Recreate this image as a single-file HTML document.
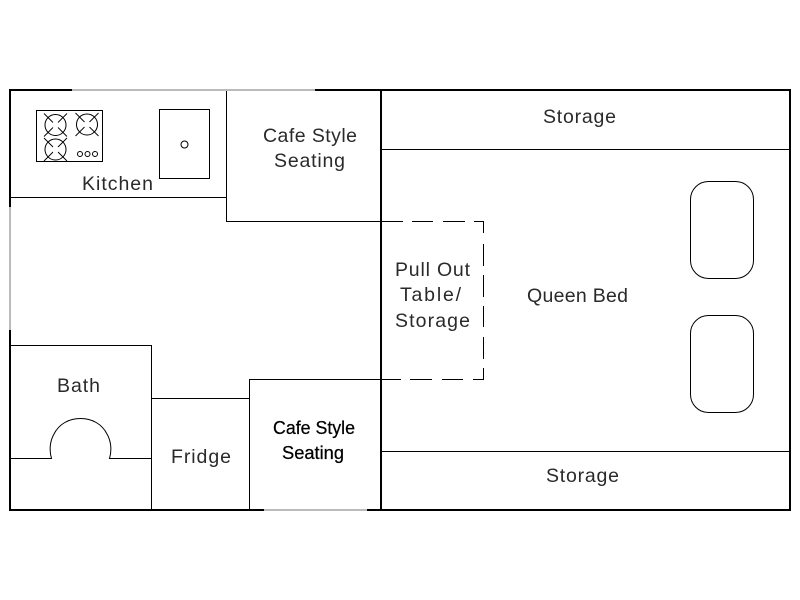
<!DOCTYPE html>
<html><head><meta charset="utf-8"><style>
html,body{margin:0;padding:0;background:#fff}
svg{display:block}
text{font-family:"Liberation Sans",sans-serif;font-size:19.5px;fill:#2a2a2a;text-anchor:start}
.b{fill:#000;font-size:18.5px;stroke:#000;stroke-width:.25}
</style></head><body>
<svg width="800" height="600" viewBox="0 0 800 600" xmlns="http://www.w3.org/2000/svg">
<rect width="800" height="600" fill="#fff"/>
<g fill="none" stroke="#000" stroke-width="1" shape-rendering="crispEdges">
<path d="M10 197.5H226.5M226.5 90V221.5H381M381 149.5H790M381 451.5H790"/>
<path d="M10 345.5H151.5V510M151.5 398.5H249.5M249.5 510V379.5H381"/>
<path d="M381 221.5H403M412 221.5H433M443 221.5H465M474 221.5H483.5V233M483.5 244V266M483.5 275V297M483.5 306V327M483.5 337V359M483.5 368V379.5H473M463 379.5H442M432 379.5H410M401 379.5H381"/>
<rect x="36.5" y="110.5" width="66" height="51"/>
<rect x="159.5" y="109.5" width="50" height="69"/>
</g>
<g fill="none" stroke="#000" stroke-width="1">
<path d="M10 458.5H51.5C49 450 50 441 54 434C59 424 69 418.5 80.500 418.5C92 418.5 102 424 107 434C111 441 112 450 109.5 458.5H151.5"/>
<rect x="690.5" y="181.5" width="63" height="97" rx="18"/>
<rect x="690.5" y="315.5" width="63" height="97" rx="18"/>
<circle cx="184.5" cy="144.5" r="3.5"/>
<circle cx="55.5" cy="125" r="10.5"/>
<circle cx="87" cy="124.5" r="10.5"/>
<circle cx="55.5" cy="149.5" r="10.5"/>
<circle cx="80" cy="154" r="2.5"/><circle cx="87.5" cy="154" r="2.5"/><circle cx="95" cy="154" r="2.5"/>
</g>
<g fill="none" stroke="#000" stroke-width="0.9">
<path d="M44 113.500L53 122.500M67 113.500L58 122.500M44 136.500L53 127.500M67 136.500L58 127.500"/>
<path d="M75.500 113L84.500 122M98.500 113L89.500 122M75.500 136L84.500 127M98.500 136L89.500 127"/>
<path d="M44 138L53 147M67 138L58 147M44 161L53 152M67 161L58 152"/>
</g>
<g fill="none" stroke-width="2" shape-rendering="crispEdges">
<path d="M9 90H72M315 90H791M790 90V510M9 510H264M367 510H791M10 90V207M10 330V511" stroke="#000"/>
<path d="M72 90H315M264 510H367M10 207V330" stroke="#bbb"/>
<path d="M381 90V510" stroke="#000"/>
</g>
<text x="82" y="190" textLength="71" lengthAdjust="spacing">Kitchen</text>
<text x="263" y="142" textLength="94" lengthAdjust="spacing">Cafe Style</text>
<text x="274" y="167" textLength="71" lengthAdjust="spacing">Seating</text>
<text x="543" y="123" textLength="73" lengthAdjust="spacing">Storage</text>
<text x="395" y="276" textLength="75" lengthAdjust="spacing">Pull Out</text>
<text x="400" y="301" textLength="61" lengthAdjust="spacing">Table/</text>
<text x="395" y="327" textLength="75" lengthAdjust="spacing">Storage</text>
<text x="527" y="302" textLength="101" lengthAdjust="spacing">Queen Bed</text>
<text x="57" y="392" textLength="43" lengthAdjust="spacing">Bath</text>
<text x="171" y="463" textLength="60" lengthAdjust="spacing">Fridge</text>
<text class="b" x="273" y="434" textLength="82" lengthAdjust="spacingAndGlyphs">Cafe Style</text>
<text class="b" x="282" y="459" textLength="62" lengthAdjust="spacingAndGlyphs">Seating</text>
<text x="546" y="482" textLength="73" lengthAdjust="spacing">Storage</text>
</svg>
</body></html>
